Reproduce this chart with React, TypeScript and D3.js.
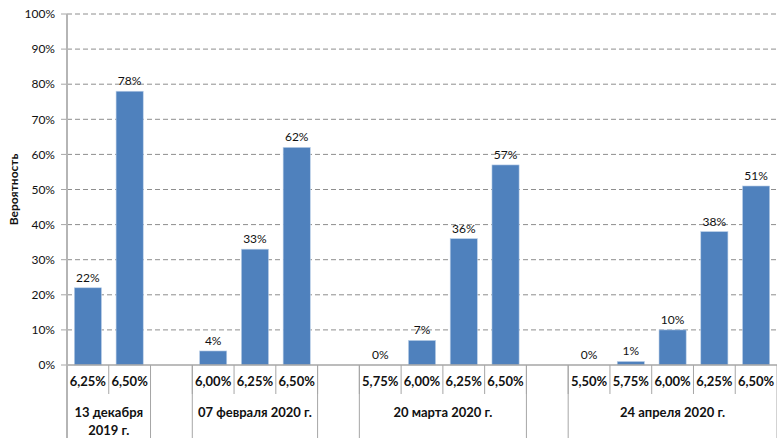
import React from "react";
import * as d3 from "d3";

// data
const groupLabels = [["13 декабря", "2019 г."], ["07 февраля 2020 г."], ["20 марта 2020 г."], ["24 апреля 2020 г."]];
const rates1 = ["6,25%", "6,50%"];
const values1 = [22, 78];
const rates2 = ["6,00%", "6,25%", "6,50%"];
const values2 = [4, 33, 62];
const rates3 = ["5,75%", "6,00%", "6,25%", "6,50%"];
const values3 = [0, 7, 36, 57];
const rates4 = ["5,50%", "5,75%", "6,00%", "6,25%", "6,50%"];
const values4 = [0, 1, 10, 38, 51];
const yTicks = [0, 10, 20, 30, 40, 50, 60, 70, 80, 90, 100];

const width = 777;
const height = 438;
const left = 67;
const right = 777;
const top = 14;
const bottom = 365;
const font = "Lato, 'Open Sans', sans-serif";

const App = () => {
  const rates = [rates1, rates2, rates3, rates4];
  const values = [values1, values2, values3, values4];

  // slots: each group's rates, then an empty slot between groups
  const slots: { key: string; label: string; value: number | null; group: number }[] = [];
  rates.forEach((r, g) => {
    r.forEach((lab, i) => slots.push({ key: g + "-" + i, label: lab, value: values[g][i], group: g }));
    if (g < rates.length - 1) slots.push({ key: "gap" + g, label: "", value: null, group: -1 });
  });

  const slotX = d3.scaleBand().domain(slots.map((d) => d.key)).range([left, right]).padding(0);
  const barX = d3
    .scaleBand()
    .domain(slots.map((d) => d.key))
    .range([left, right])
    .paddingInner(0.35)
    .paddingOuter(0.175);
  const y = d3.scaleLinear().domain([0, 100]).range([bottom, top]);

  // group boundaries (long lines)
  const bounds: number[] = [left];
  slots.forEach((s, i) => {
    const next = slots[i + 1];
    if (!next || next.group !== s.group) bounds.push(slotX(s.key)! + slotX.bandwidth());
  });

  const groups = rates.map((r, g) => {
    const keys = slots.filter((s) => s.group === g).map((s) => s.key);
    const x0 = slotX(keys[0])!;
    const x1 = slotX(keys[keys.length - 1])! + slotX.bandwidth();
    return { g, cx: (x0 + x1) / 2 };
  });

  return (
    <svg width={width} height={height} style={{ position: "absolute", left: 0, top: 0 }} fontFamily={font}>
      <rect width={width} height={height} fill="#fff" />
      {yTicks.map((t) => (
        <g key={t}>
          {t > 0 && (
            <line x1={left} x2={right} y1={y(t)} y2={y(t)} stroke="#8e8e8e" strokeDasharray="5,3" />
          )}
          <line x1={left - 6} x2={left} y1={y(t)} y2={y(t)} stroke="#a6a6a6" />
          <text x={left - 12} y={y(t)} dy="0.35em" textAnchor="end" fontSize={12} fill="#111">
            {t + "%"}
          </text>
        </g>
      ))}
      {slots
        .filter((s) => s.value !== null)
        .map((s) => (
          <g key={s.key}>
            <rect
              x={barX(s.key)}
              y={y(s.value!)}
              width={barX.bandwidth()}
              height={bottom - y(s.value!)}
              fill="#4f81bd"
              stroke="#bcd0e8"
              strokeWidth={0.6}
            />
            <text
              x={barX(s.key)! + barX.bandwidth() / 2}
              y={y(s.value!) - 6}
              textAnchor="middle"
              fontSize={12}
              fill="#111"
            >
              {s.value + "%"}
            </text>
            <text
              x={slotX(s.key)! + slotX.bandwidth() / 2}
              y={386}
              textAnchor="middle"
              fontSize={13}
              fontWeight="bold"
              fill="#111"
            >
              {s.label}
            </text>
          </g>
        ))}
      {slots.map((s, i) =>
        i === 0 ? null : (
          <line
            key={"t" + s.key}
            x1={slotX(s.key)}
            x2={slotX(s.key)}
            y1={bottom}
            y2={394}
            stroke="#a6a6a6"
          />
        )
      )}
      {bounds.map((b, i) => (
        <line key={"b" + i} x1={b} x2={b} y1={bottom} y2={height} stroke="#a6a6a6" />
      ))}
      {groups.map((gr) =>
        groupLabels[gr.g].map((line, li) => (
          <text
            key={gr.g + "-" + li}
            x={gr.cx}
            y={417 + li * 18}
            textAnchor="middle"
            fontSize={13}
            fontWeight="bold"
            fill="#111"
          >
            {line}
          </text>
        ))
      )}
      <line x1={left} x2={right} y1={bottom} y2={bottom} stroke="#a6a6a6" strokeWidth={1.5} />
      <line x1={left} x2={left} y1={top} y2={height} stroke="#b5b5b5" strokeWidth={2} />
      <text
        transform={`translate(18,${(top + bottom) / 2}) rotate(-90)`}
        textAnchor="middle"
        fontSize={12}
        fontWeight="bold"
        fill="#111"
      >
        Вероятность
      </text>
    </svg>
  );
};

export default App;
